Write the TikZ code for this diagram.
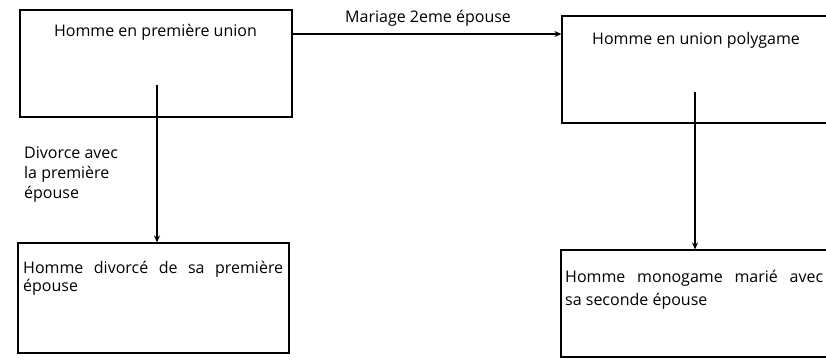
\documentclass[tikz,border=0pt]{standalone}
\usepackage{fontspec}
\setmainfont{Open Sans}
\usetikzlibrary{arrows.meta}
\begin{document}
\begin{tikzpicture}[x=1pt,y=-1pt,
  box/.style={draw=black,line width=1.2pt,rectangle,inner sep=0pt},
  txt/.style={inner sep=0pt,font=\fontsize{16}{18}\selectfont},
  conn/.style={draw=black,line width=1.1pt,-{Stealth[length=7pt,width=6pt]}}]
\useasboundingbox (0,0) rectangle (826,359);
\clip (0,0) rectangle (826,359);
\fill[white] (0,0) rectangle (826,359);
% boxes
\node[box,minimum width=272pt,minimum height=107pt] (b1) at (156,63.5) {};
\node[box,minimum width=272pt,minimum height=107pt] (b2) at (698,69.5) {};
\node[box,minimum width=271pt,minimum height=110pt] (b3) at (153.5,298) {};
\node[box,minimum width=272pt,minimum height=107pt] (b4) at (697,303.5) {};
% box texts
\node[txt] (t1) at (155.5,32) {Homme en première union};
\node[txt,anchor=west] (t2) at (592,40) {Homme en union polygame};
\node[txt,anchor=north west,text width=260pt,align=justify] (t3) at (23,261)
  {Homme divorcé de sa première\linebreak épouse};
\node[txt,anchor=north west,text width=258pt,align=justify,
  font=\fontsize{16}{23}\selectfont] (t4) at (565,270)
  {Homme monogame marié avec\linebreak sa seconde épouse};
% connectors
\coordinate (s1) at (157,85);
\coordinate (s2) at (695,92);
\draw[conn] (b1.east |- 0,34) -- (b2.west |- 0,34);
\draw[conn] (s1) -- (s1 |- b3.north);
\draw[conn] (s2) -- (s2 |- b4.north);
% labels
\node[txt,anchor=west] (l1) at (345,18) {Mariage 2eme épouse};
\node[txt,anchor=north west,align=left,
  font=\fontsize{16}{20}\selectfont] (l2) at (24,147)
  {Divorce avec\\la première\\épouse};
\end{tikzpicture}
\end{document}
